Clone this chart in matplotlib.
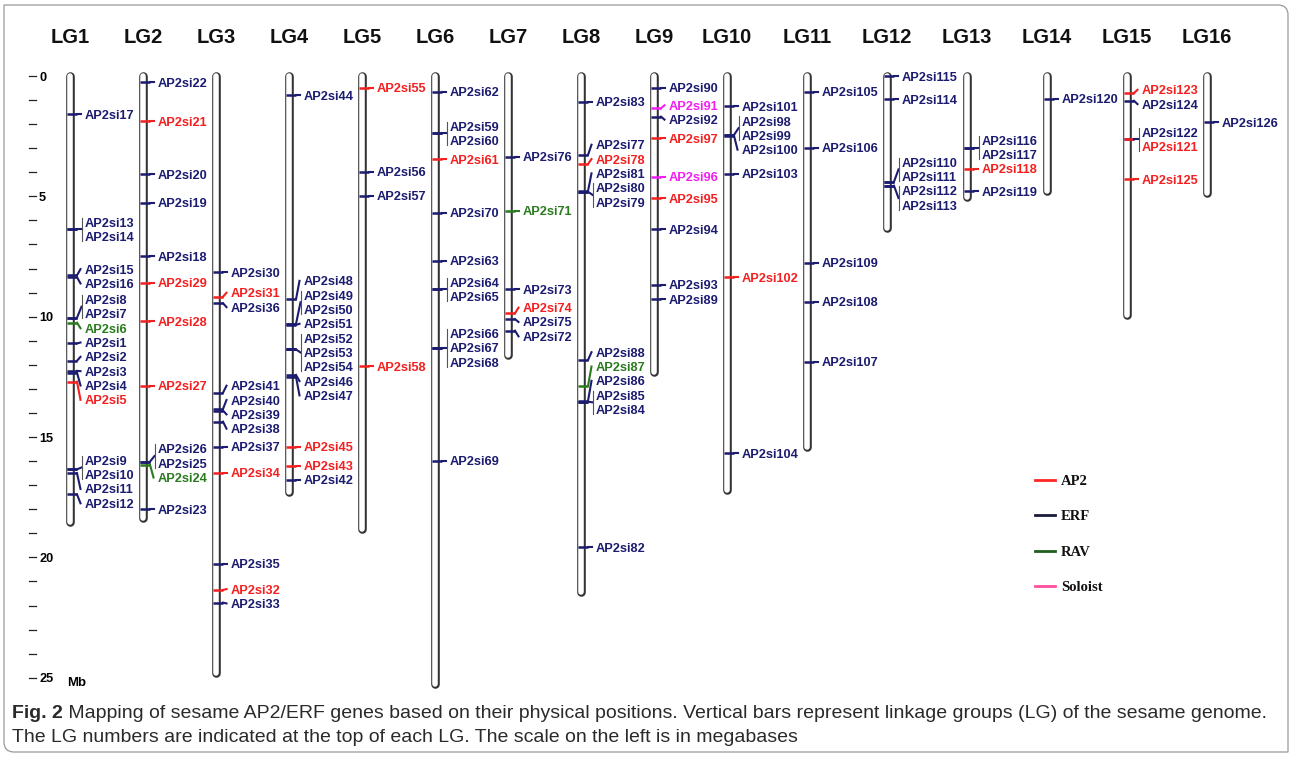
import matplotlib
matplotlib.use('Agg')
import matplotlib.pyplot as plt
from matplotlib.path import Path
from matplotlib.patches import PathPatch

W, H = 1292, 758

# linkage groups and their physical lengths (Mb)
lg_names = ['LG%d' % i for i in range(1, 17)]
lg_lengths = [18.54, 18.38, 24.82, 17.30, 18.80, 25.24, 11.61, 21.45,
              12.31, 17.22, 15.42, 6.32, 5.04, 4.76, 9.92, 4.85]

# genes on each LG: (name, position in Mb, family)
lg1 = [('AP2si17', 1.59, 'ERF'), ('AP2si13', 6.37, 'ERF'), ('AP2si14', 6.37, 'ERF'),
       ('AP2si15', 8.28, 'ERF'), ('AP2si16', 8.36, 'ERF'),
       ('AP2si8', 10.04, 'ERF'), ('AP2si7', 10.04, 'ERF'), ('AP2si6', 10.25, 'RAV'),
       ('AP2si1', 11.11, 'ERF'), ('AP2si2', 11.83, 'ERF'), ('AP2si3', 12.25, 'ERF'),
       ('AP2si4', 12.32, 'ERF'), ('AP2si5', 12.70, 'AP2'),
       ('AP2si9', 16.34, 'ERF'), ('AP2si10', 16.34, 'ERF'), ('AP2si11', 16.50, 'ERF'),
       ('AP2si12', 17.38, 'ERF')]
lg2 = [('AP2si22', 0.26, 'ERF'), ('AP2si21', 1.87, 'AP2'), ('AP2si20', 4.08, 'ERF'),
       ('AP2si19', 5.26, 'ERF'), ('AP2si18', 7.48, 'ERF'), ('AP2si29', 8.59, 'AP2'),
       ('AP2si28', 10.18, 'AP2'), ('AP2si27', 12.87, 'AP2'),
       ('AP2si26', 16.02, 'ERF'), ('AP2si25', 16.02, 'ERF'), ('AP2si24', 16.15, 'RAV'),
       ('AP2si23', 17.99, 'ERF')]
lg3 = [('AP2si30', 8.16, 'ERF'), ('AP2si31', 9.17, 'AP2'), ('AP2si36', 9.44, 'ERF'),
       ('AP2si41', 13.16, 'ERF'), ('AP2si40', 13.83, 'ERF'), ('AP2si39', 13.90, 'ERF'),
       ('AP2si38', 14.36, 'ERF'), ('AP2si37', 15.40, 'ERF'), ('AP2si34', 16.48, 'AP2'),
       ('AP2si35', 20.27, 'ERF'), ('AP2si32', 21.35, 'AP2'), ('AP2si33', 21.88, 'ERF')]
lg4 = [('AP2si44', 0.79, 'ERF'), ('AP2si48', 9.28, 'ERF'),
       ('AP2si49', 10.30, 'ERF'), ('AP2si50', 10.30, 'ERF'), ('AP2si51', 10.34, 'ERF'),
       ('AP2si52', 11.36, 'ERF'), ('AP2si53', 11.36, 'ERF'), ('AP2si54', 11.36, 'ERF'),
       ('AP2si46', 12.42, 'ERF'), ('AP2si47', 12.50, 'ERF'),
       ('AP2si45', 15.40, 'AP2'), ('AP2si43', 16.19, 'AP2'), ('AP2si42', 16.78, 'ERF')]
lg5 = [('AP2si55', 0.48, 'AP2'), ('AP2si56', 3.97, 'ERF'), ('AP2si57', 4.97, 'ERF'),
       ('AP2si58', 12.05, 'AP2')]
lg6 = [('AP2si62', 0.65, 'ERF'), ('AP2si59', 2.38, 'ERF'), ('AP2si60', 2.38, 'ERF'),
       ('AP2si61', 3.46, 'AP2'), ('AP2si70', 5.68, 'ERF'), ('AP2si63', 7.67, 'ERF'),
       ('AP2si64', 8.86, 'ERF'), ('AP2si65', 8.86, 'ERF'),
       ('AP2si66', 11.29, 'ERF'), ('AP2si67', 11.29, 'ERF'), ('AP2si68', 11.29, 'ERF'),
       ('AP2si69', 15.98, 'ERF')]
lg7 = [('AP2si76', 3.35, 'ERF'), ('AP2si71', 5.60, 'RAV'), ('AP2si73', 8.86, 'ERF'),
       ('AP2si74', 9.86, 'AP2'), ('AP2si75', 10.10, 'ERF'), ('AP2si72', 10.58, 'ERF')]
lg8 = [('AP2si83', 1.07, 'ERF'), ('AP2si77', 3.28, 'ERF'), ('AP2si78', 3.66, 'AP2'),
       ('AP2si81', 4.78, 'ERF'), ('AP2si80', 4.81, 'ERF'), ('AP2si79', 4.81, 'ERF'),
       ('AP2si88', 11.80, 'ERF'), ('AP2si87', 12.88, 'RAV'), ('AP2si86', 13.50, 'ERF'),
       ('AP2si85', 13.53, 'ERF'), ('AP2si84', 13.53, 'ERF'), ('AP2si82', 19.58, 'ERF')]
lg9 = [('AP2si90', 0.48, 'ERF'), ('AP2si91', 1.34, 'Soloist'), ('AP2si92', 1.69, 'ERF'),
       ('AP2si97', 2.59, 'AP2'), ('AP2si96', 4.18, 'Soloist'), ('AP2si95', 5.08, 'AP2'),
       ('AP2si94', 6.37, 'ERF'), ('AP2si93', 8.68, 'ERF'), ('AP2si89', 9.28, 'ERF')]
lg10 = [('AP2si101', 1.25, 'ERF'), ('AP2si98', 2.45, 'ERF'), ('AP2si99', 2.45, 'ERF'),
        ('AP2si100', 2.48, 'ERF'), ('AP2si103', 4.07, 'ERF'), ('AP2si102', 8.36, 'AP2'),
        ('AP2si104', 15.68, 'ERF')]
lg11 = [('AP2si105', 0.65, 'ERF'), ('AP2si106', 2.98, 'ERF'), ('AP2si109', 7.75, 'ERF'),
        ('AP2si108', 9.37, 'ERF'), ('AP2si107', 11.87, 'ERF')]
lg12 = [('AP2si115', 0.00, 'ERF'), ('AP2si114', 0.97, 'ERF'),
        ('AP2si110', 4.39, 'ERF'), ('AP2si111', 4.39, 'ERF'),
        ('AP2si112', 4.56, 'ERF'), ('AP2si113', 4.56, 'ERF')]
lg13 = [('AP2si116', 2.98, 'ERF'), ('AP2si117', 2.98, 'ERF'), ('AP2si118', 3.86, 'AP2'),
        ('AP2si119', 4.78, 'ERF')]
lg14 = [('AP2si120', 0.95, 'ERF')]
lg15 = [('AP2si123', 0.71, 'AP2'), ('AP2si124', 1.03, 'ERF'),
        ('AP2si122', 2.63, 'ERF'), ('AP2si121', 2.63, 'AP2'), ('AP2si125', 4.28, 'AP2')]
lg16 = [('AP2si126', 1.92, 'ERF')]
lg_genes = [lg1, lg2, lg3, lg4, lg5, lg6, lg7, lg8,
            lg9, lg10, lg11, lg12, lg13, lg14, lg15, lg16]

family_colors = {'AP2': '#f41f1f', 'ERF': '#1b1b70', 'RAV': '#2a7a1e', 'Soloist': '#f21ef2'}
legend_names = ['AP2', 'ERF', 'RAV', 'Soloist']
legend_colors = ['#ff2626', '#1a1a3c', '#1f5e1f', '#ff4f9e']

caption_bold = 'Fig. 2'
caption_1 = (' Mapping of sesame AP2/ERF genes based on their physical positions. '
             'Vertical bars represent linkage groups (LG) of the sesame genome.')
caption_2 = ('The LG numbers are indicated at the top of each LG. '
             'The scale on the left is in megabases')

# pixel row of 0 Mb and pixels per Mb
Y0 = 76
PX_PER_MB = 24.07
GAP = 0.595  # label spacing in Mb


def px2mb(y):
    return (y - Y0) / PX_PER_MB


def layout_labels(genes):
    loci = []
    for name, pos, fam in sorted(genes, key=lambda g: g[1]):
        if loci and loci[-1]['pos'] == pos:
            loci[-1]['genes'].append((name, fam))
        else:
            loci.append({'pos': pos, 'genes': [(name, fam)]})

    def span(c):
        lo = min(l['pos'] for l in c)
        hi = max(l['pos'] for l in c)
        n = sum(len(l['genes']) for l in c)
        mid = (lo + hi) / 2
        return mid - n * GAP / 2, mid + n * GAP / 2

    clusters = [[l] for l in loci]
    changed = True
    while changed:
        changed = False
        for i in range(len(clusters) - 1):
            if span(clusters[i])[1] - span(clusters[i + 1])[0] > 0.05:
                clusters[i] = clusters[i] + clusters.pop(i + 1)
                changed = True
                break
    for c in clusters:
        top = span(c)[0]
        k = 0
        for l in c:
            n = len(l['genes'])
            l['label_y'] = [top + (k + j + 0.5) * GAP for j in range(n)]
            k += n
    return loci


plt.rcParams['font.family'] = ['Liberation Sans', 'DejaVu Sans']
fig = plt.figure(figsize=(W / 100, H / 100), dpi=100)

# background axes in pixels: frame + caption
bg = fig.add_axes([0, 0, 1, 1])
bg.set_xlim(0, W)
bg.set_ylim(H, 0)
bg.axis('off')
# frame with rounded top-right and bottom-left corners
l, t, r, b, rad = 4, 5, W - 4, H - 6, 10
frame = Path([(l, t), (r - rad, t), (r, t), (r, t + rad), (r, b), (l + rad, b),
              (l, b), (l, b - rad), (l, t)],
             [Path.MOVETO, Path.LINETO, Path.CURVE3, Path.CURVE3, Path.LINETO,
              Path.LINETO, Path.CURVE3, Path.CURVE3, Path.CLOSEPOLY])
bg.add_patch(PathPatch(frame, fc='none', ec='#9a9a9a', lw=0.9))

ax = fig.add_axes([0, 0, 1, 1])
ax.set_xlim(0, W)
ax.set_ylim(px2mb(H), px2mb(0))
ax.axis('off')

# x position of each LG, spaced by its longest label
xs = [70]
for genes in lg_genes[:-1]:
    longest = max(len(g[0]) for g in genes)
    xs.append(xs[-1] + 24 + 7 * longest)

for x, name, L, genes in zip(xs, lg_names, lg_lengths, lg_genes):
    ax.text(x, px2mb(37), name, ha='center', va='center',
            fontsize=14.5, fontweight='bold', color='#111111')
    ax.plot([x, x], [0, L], color='#333333', lw=6.2,
            solid_capstyle='round', zorder=2)
    ax.plot([x, x], [0, L], color='white', lw=4.0,
            solid_capstyle='round', zorder=3)
    for locus in layout_labels(genes):
        p = locus['pos']
        ys = locus['label_y']
        n = len(ys)
        for (gname, fam), ly in zip(locus['genes'], ys):
            c = family_colors[fam]
            ax.plot([x - 3, x + 7], [p, p], color=c, lw=1.8,
                    solid_capstyle='butt', zorder=4)
            if n == 1:
                ax.plot([x + 7, x + 10.5], [p, ly], color=c, lw=1.5, zorder=4)
            ax.text(x + 15, ly, gname, color=c, fontsize=9.2, fontweight='bold',
                    ha='left', va='center_baseline')
        if n > 1:
            mid = (ys[0] + ys[-1]) / 2
            c = family_colors[locus['genes'][0][1]]
            ax.plot([x + 7, x + 11.5], [p, mid], color=c, lw=1.5, zorder=4)
            ax.plot([x + 11.5, x + 11.5], [ys[0] - 0.19, ys[-1] + 0.19],
                    color='#555555', lw=0.8, zorder=4)

# scale on the left
for mb in range(26):
    ax.plot([29, 36], [mb, mb], color='#222222', lw=0.9)
for mb in range(0, 26, 5):
    ax.text(39, mb, str(mb), fontsize=9.2, fontweight='bold',
            ha='left', va='center_baseline')
ax.text(67, px2mb(682), 'Mb', fontsize=9.5, fontweight='bold',
        ha='left', va='center_baseline')

# legend
for i, (lab, c) in enumerate(zip(legend_names, legend_colors)):
    y = px2mb(480 + 35.3 * i)
    ax.plot([1035, 1055], [y, y], color=c, lw=2)
    ax.text(1061, y, lab, fontsize=10.5, fontweight='bold',
            family=['Liberation Serif', 'DejaVu Serif'],
            ha='left', va='center_baseline', color='#111111')

# caption, sized so the first line spans the frame
renderer = fig.canvas.get_renderer()
cap_font = ['Liberation Sans', 'DejaVu Sans']


def caption_line(y, parts, size, draw=True):
    x = 12
    for s, w in parts:
        t = bg.text(x, y, s, fontsize=size, fontweight=w, family=cap_font,
                    color='#2a2a2a', ha='left', va='center_baseline')
        x += t.get_window_extent(renderer).width
        if not draw:
            t.remove()
    return x - 12


w0 = caption_line(711, [(caption_bold, 'bold'), (caption_1, 'normal')], 10, draw=False)
size = 10 * 1250 / w0
caption_line(711, [(caption_bold, 'bold'), (caption_1, 'normal')], size)
caption_line(735, [(caption_2, 'normal')], size)

fig.savefig('out.png', dpi=100)
